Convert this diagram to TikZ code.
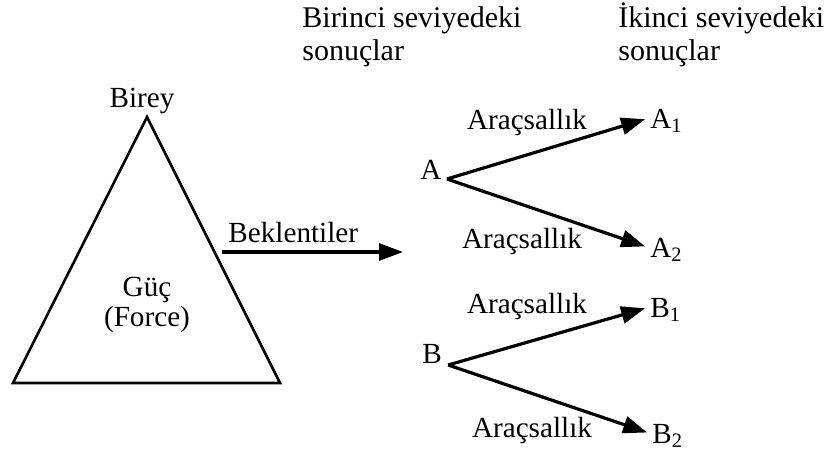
\documentclass[tikz,border=0pt]{standalone}
\usepackage{fontspec}
\setmainfont{Liberation Serif}
\usetikzlibrary{arrows.meta}
\definecolor{cInk}{HTML}{000000}

\begin{document}
\begin{tikzpicture}[
  x=0.5pt, y=-0.5pt,
  font=\fontsize{14.6}{16.5}\selectfont,
  >=Triangle,
  lbl/.style={inner sep=1pt, text depth=0pt, anchor=base, text=cInk},
  res/.style={inner sep=1pt, text depth=0pt, anchor=base west, text=cInk},
  hdr/.style={inner sep=0pt, align=left, anchor=base west, text=cInk,
              font=\fontsize{15}{16.5}\selectfont},
  tri/.style={draw=cInk, line width=1.3pt, line join=miter},
  flow/.style={-{Triangle[length=12pt,width=8.5pt]}, line width=1.6pt, draw=cInk},
]
\useasboundingbox (0,0) rectangle (826,451);

% ---------- Headers ----------
\node[hdr] (lvlone) at (302,60) {Birinci seviyedeki\\sonuçlar};
\node[hdr] (lvltwo) at (618,60) {İkinci seviyedeki\\sonuçlar};

% ---------- Triangle ----------
\coordinate (apex) at (147,117);
\coordinate (bl) at (13,383);
\coordinate (br) at (280,383);
\draw[tri] (apex) -- (br) -- (bl) -- cycle;
\node[lbl] (birey) at (142,107) {Birey};
\node[align=center, text=cInk, font=\fontsize{14.6}{15}\selectfont] (guc) at (147,305) {Güç\\(Force)};

% ---------- Expectations ----------
\coordinate (bkstart) at (222,252);
\coordinate (bkend) at (403,252);
\node[lbl, anchor=base west] (bek) at (226,242) {Beklentiler};
\draw[flow] (bkstart) -- (bkend);

% ---------- First-level outcomes ----------
\node[lbl] (a) at (431,179) {A};
\node[lbl] (b) at (432,363) {B};

% ---------- Second-level outcomes ----------
\node[res] (a1) at (648,128) {A\textsubscript{1}};
\node[res] (a2) at (648,257) {A\textsubscript{2}};
\node[res] (b1) at (648,317) {B\textsubscript{1}};
\node[res] (b2) at (650,443) {B\textsubscript{2}};

% ---------- Instrumentality ----------
\node[lbl] (la1) at (527,129) {Araçsallık};
\node[lbl] (la2) at (522,248) {Araçsallık};
\node[lbl] (lb1) at (527,313) {Araçsallık};
\node[lbl] (lb2) at (532,437) {Araçsallık};

% ---------- Arrows ----------
\draw[flow, shorten >=1.5pt] ([xshift=1.5pt]a.base east) -- (a1.west);
\draw[flow, shorten >=1.5pt] ([xshift=1.5pt]a.base east) -- (a2.west);
\draw[flow, shorten >=1.5pt] ([xshift=2pt,yshift=-1pt]b.base east) -- (b1.west);
\draw[flow, shorten >=1.5pt] ([xshift=2pt,yshift=-1pt]b.base east) -- (b2.west);

\end{tikzpicture}
\end{document}
